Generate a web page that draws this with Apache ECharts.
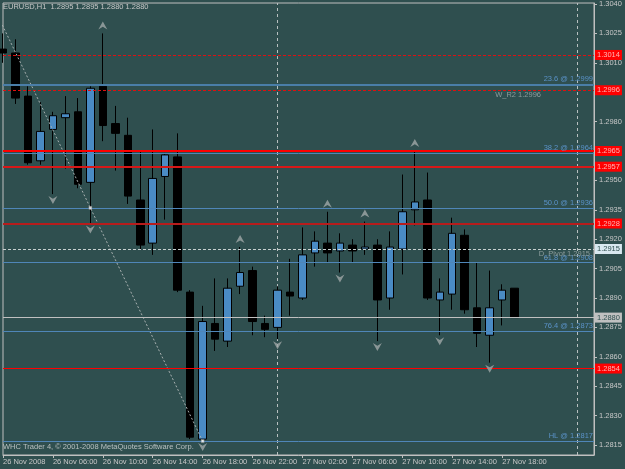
<!DOCTYPE html>
<html><head><meta charset="utf-8">
<script src="https://cdn.jsdelivr.net/npm/echarts@6/dist/echarts.min.js"></script>
<style>html,body{margin:0;padding:0;background:#2f4f4f;}#c{width:625px;height:469px;}</style>
</head><body><div id="c"></div>
<script>
// ---- data (bar index 0 = 26 Nov 02:00, H1 bars) ----
const barIndex = [0,1,2,3,4,5,6,7,8,9,10,11,12,13,14,15,16,17,18,19,20,21,22,23,24,25,26,27,28,29,30,31,32,33,34,35,36,37,38,39,40,41];
const opens  = [1.3017,1.3015,1.2993,1.2960,1.2976,1.2982,1.2985,1.2949,1.2998,1.2979,1.2973,1.2940,1.2918,1.2952,1.2962,1.2893,1.2818,1.2877,1.2868,1.2896,1.2904,1.2877,1.2875,1.2893,1.2890,1.2913,1.2918,1.2914,1.2917,1.2915,1.2917,1.2890,1.2915,1.2935,1.2940,1.2889,1.2892,1.2922,1.2885,1.2871,1.2889,1.2895];
const highs  = [1.3025,1.3022,1.2998,1.2990,1.2985,1.2993,1.2992,1.2998,1.3025,1.2988,1.2982,1.2965,1.2976,1.2964,1.2974,1.2894,1.2886,1.2900,1.2900,1.2916,1.2906,1.2881,1.2896,1.2910,1.2926,1.2924,1.2934,1.2923,1.2920,1.2929,1.2920,1.2924,1.2953,1.2965,1.2954,1.2900,1.2931,1.2925,1.2908,1.2904,1.2897,1.2895];
const lows   = [1.3010,1.2989,1.2958,1.2958,1.2943,1.2956,1.2946,1.2928,1.2970,1.2955,1.2938,1.2915,1.2912,1.2930,1.2893,1.2818,1.2817,1.2863,1.2865,1.2892,1.2871,1.2870,1.2869,1.2881,1.2889,1.2906,1.2908,1.2903,1.2908,1.2912,1.2868,1.2884,1.2902,1.2927,1.2889,1.2871,1.2884,1.2882,1.2865,1.2857,1.2876,1.2880];
const closes = [1.3015,1.2992,1.2959,1.2975,1.2983,1.2984,1.2948,1.2997,1.2978,1.2974,1.2942,1.2917,1.2951,1.2963,1.2894,1.2819,1.2878,1.2869,1.2895,1.2903,1.2878,1.2874,1.2894,1.2891,1.2912,1.2919,1.2913,1.2918,1.2914,1.2916,1.2889,1.2916,1.2934,1.2939,1.2890,1.2893,1.2923,1.2884,1.2872,1.2885,1.2894,1.2880];

const upFractalBars   = [8,19,26,29,33];
const downFractalBars = [4,7,16,22,27,30,35,39];

const xTickValues = [0,4,8,12,16,20,24,28,32,36,40];
const xTickLabels = ['26 Nov 2008','26 Nov 06:00','26 Nov 10:00','26 Nov 14:00','26 Nov 18:00','26 Nov 22:00','27 Nov 02:00','27 Nov 06:00','27 Nov 10:00','27 Nov 14:00','27 Nov 18:00'];
const yTickValues  = [1.3040,1.3025,1.3010,1.2995,1.2980,1.2965,1.2950,1.2935,1.2920,1.2905,1.2890,1.2875,1.2860,1.2845,1.2830,1.2815];
const yLabelValues = [1.3040,1.3025,1.3010,1.2980,1.2950,1.2935,1.2920,1.2905,1.2890,1.2875,1.2860,1.2845,1.2830,1.2815];

const redLevels  = [1.3014,1.2996,1.2965,1.2957,1.2928,1.2854];
const fibNames   = ['23.6','38.2','50.0','61.8','76.4','HL'];
const fibLevels  = [1.2999,1.2964,1.2936,1.2908,1.2873,1.2817];
const weeklyR2   = 1.2996;
const dailyPivot = 1.2915;
const bidPrice   = 1.2880;
const daySeparators = [22,46];
const fibTrend = [[-2,1.3055],[16,1.2817]];
const fibAnchors = [[7,1.2936],[16,1.2817]];

// ---- chart ----
const FONT = 'Liberation Sans';
const TXT = '#c8c8c8';
const FS = 7.5;
const CLEAR = 'rgba(0,0,0,0)';
const chart = echarts.init(document.getElementById('c'));

const candleData = barIndex.map((x,k)=>[x, opens[k], closes[k], lows[k], highs[k]]);

const redStyles = [
  {color:'#e01010', width:1, type:[3,2]},
  {color:'#e01010', width:1, type:[3,2]},
  {color:'#ff0000', width:2, type:'solid'},
  {color:'#d81818', width:2, type:'solid'},
  {color:'#b81c1c', width:2, type:'solid'},
  {color:'#ff0000', width:1, type:'solid'}
];
const boxLabel = (txt,bg,fg)=>({show:true, position:'end', distance:1, formatter:txt,
  backgroundColor:bg, color:fg, padding:[1,2,0,2], fontSize:FS, fontFamily:FONT, lineHeight:9});

const sepItems = daySeparators.map(v=>({xAxis:v, lineStyle:{color:'#b8c0c0', width:1, type:[3,3]}, label:{show:false}}));

const markItems = [];
fibLevels.forEach((v,k)=>markItems.push({yAxis:v,
  lineStyle:{color: k===0?'#4a7ea8':'#4f86b8', width:k===0?2:1, type:'solid'},
  label:{show:true, position:'insideEndTop', distance:1, formatter: fibNames[k]+' @ '+v.toFixed(4), color:'#5a92c8', fontSize:FS, fontFamily:FONT}}));
redLevels.forEach((v,k)=>markItems.push({yAxis:v, lineStyle:redStyles[k], label:boxLabel(v.toFixed(4),'#ff0000','#ffb4b4')}));
markItems.push({yAxis:weeklyR2, lineStyle:{width:1, color:CLEAR}, label:{show:true, position:'insideEndBottom', distance:1, padding:[0,52,0,0], formatter:'W_R2 '+weeklyR2.toFixed(4), color:'#8c9c9c', fontSize:FS, fontFamily:FONT}});
markItems.push({yAxis:dailyPivot, lineStyle:{width:1, color:CLEAR}, label:{show:true, position:'insideEndBottom', distance:1, padding:[0,3,0,0], formatter:'D_Pivot '+dailyPivot.toFixed(4), color:'#8c9c9c', fontSize:FS, fontFamily:FONT}});
markItems.push({yAxis:dailyPivot, lineStyle:{color:'#c8d0d0', width:1, type:[3,2]}, label:boxLabel(dailyPivot.toFixed(4),'#d8e8f0','#2f4f4f')});
markItems.push({yAxis:bidPrice, lineStyle:{color:'#c0c0c0', width:1, type:'solid'}, label:boxLabel(bidPrice.toFixed(4),'#c0c0c0','#2f4f4f')});

const option = {
  animation:false,
  backgroundColor:'#2f4f4f',
  textStyle:{fontFamily:FONT},
  title:[
    {text:'EURUSD,H1  '+[opens[41],highs[41],lows[41],closes[41]].map(v=>v.toFixed(4)).join(' '), left:3, top:3, padding:0,
     textStyle:{color:TXT, fontSize:FS, fontWeight:'normal', fontFamily:FONT}},
    {text:'WHC Trader 4, © 2001-2008 MetaQuotes Software Corp.', left:3, top:443, padding:0,
     textStyle:{color:'#b8c0c0', fontSize:FS, fontWeight:'normal', fontFamily:FONT}}
  ],
  grid:{left:2, right:31, top:2, bottom:14, show:true, borderColor:'#c0c0c0', borderWidth:1, containLabel:false},
  xAxis:{type:'value', min:0, max:47.36, splitLine:{show:false},
    axisLine:{show:true, onZero:false, lineStyle:{color:'#c0c0c0'}},
    axisTick:{show:true, customValues:xTickValues, length:3, lineStyle:{color:'#c0c0c0'}},
    axisLabel:{customValues:xTickValues, formatter:v=>xTickLabels[xTickValues.indexOf(Math.round(v))]||'', align:'left', margin:3, color:TXT, fontSize:FS, fontFamily:FONT}},
  yAxis:{type:'value', position:'right', min:1.28099, max:1.30405, scale:true, splitLine:{show:false},
    axisLine:{show:true, onZero:false, lineStyle:{color:'#c0c0c0'}},
    axisTick:{show:true, customValues:yTickValues, length:3, lineStyle:{color:'#c0c0c0'}},
    axisLabel:{customValues:yLabelValues, formatter:v=>v.toFixed(4), margin:5, color:TXT, fontSize:FS, fontFamily:FONT}},
  series:[
    {type:'line', data:[], z:1, silent:true,
      markLine:{z:1, silent:true, symbol:'none', animation:false, precision:5, data:sepItems}},
    {type:'candlestick', data:candleData, barWidth:8, z:2,
      itemStyle:{color:'#4a8bc4', color0:'#000000', borderColor:'#000000', borderColor0:'#000000', borderWidth:1}},
    {type:'line', data:fibTrend, showSymbol:false, symbol:'none', clip:true, silent:true, z:3,
      lineStyle:{color:'#a8b0b0', width:1, type:[2,2]},
      markLine:{silent:true, symbol:'none', animation:false, precision:5, data:markItems}},
    {type:'scatter', data:fibAnchors, symbol:'rect', symbolSize:3, silent:true, z:6,
      itemStyle:{color:'#ffffff', borderColor:'#808080', borderWidth:0.5}},
    {type:'scatter', data:upFractalBars.map(i=>[i,highs[i]]), symbol:'path://M5,0L10,9L5,6L0,9Z', symbolSize:[9,8], symbolOffset:[0,-8], silent:true, z:6,
      itemStyle:{color:'#a0a8a8'}},
    {type:'scatter', data:downFractalBars.map(i=>[i,lows[i]]), symbol:'path://M0,0L5,3L10,0L5,9Z', symbolSize:[9,8], symbolOffset:[0,6], silent:true, z:6,
      itemStyle:{color:'#a0a8a8'}}
  ]
};
chart.setOption(option);
</script></body></html>
